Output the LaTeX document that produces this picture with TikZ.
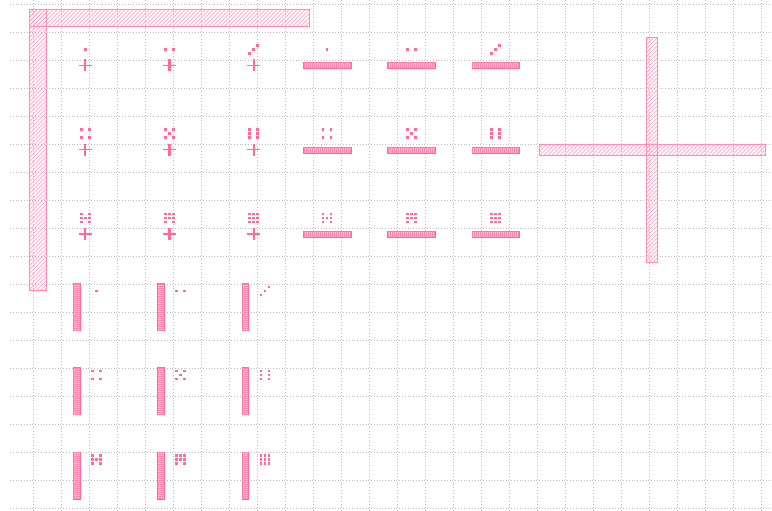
\documentclass[tikz,border=0pt]{standalone}

\definecolor{gridgray}{RGB}{190,190,190}
\definecolor{barline}{RGB}{255,140,180}
\definecolor{hatch}{RGB}{255,150,186}
\definecolor{glyph}{RGB}{255,105,155}
\definecolor{glyphfill}{RGB}{255,195,215}

% pips of a die: x, y, number
\newcommand{\pips}[3]{%
  \ifcase#3\or
    \def\piplist{0/0}\or
    \def\piplist{-1/0,1/0}\or
    \def\piplist{-1/1,0/0,1/-1}\or
    \def\piplist{-1/-1,1/-1,-1/1,1/1}\or
    \def\piplist{-1/-1,1/-1,0/0,-1/1,1/1}\or
    \def\piplist{-1/-1,-1/0,-1/1,1/-1,1/0,1/1}\or
    \def\piplist{-1/-1,-1/0,-1/1,0/0,1/-1,1/0,1/1}\or
    \def\piplist{-1/-1,0/-1,1/-1,-1/0,0/0,1/0,-1/1,1/1}\or
    \def\piplist{-1/-1,0/-1,1/-1,-1/0,0/0,1/0,-1/1,0/1,1/1}\fi
  \foreach \i/\j in \piplist {\fill[pip] (#1+4*\i-1.3,#2+4*\j-1.3) rectangle +(2.6,2.6);}}

% hatched bar: x0, y0, x1, y1
\newcommand{\hatchrect}[4]{%
  \begin{scope}
    \clip (#1,#2) rectangle (#3,#4);
    \pgfmathsetmacro\hh{#4-#2}
    \pgfmathsetmacro\sa{#1-\hh}
    \pgfmathsetmacro\sb{\sa+4}
    \foreach \s in {\sa,\sb,...,#3}
      \draw[hatchline] (\s,#4) -- ++(\hh,-\hh);
  \end{scope}
  \draw[barframe] (#1,#2) rectangle (#3,#4);}

\begin{document}
\begin{tikzpicture}[x=1pt, y=-1pt,
    gridline/.style={gridgray, line width=0.8pt, dotted},
    hatchline/.style={hatch, line width=0.6pt},
    barframe/.style={barline, line width=0.9pt},
    smallbar/.style={draw=glyph, line width=0.4pt, fill=glyphfill},
    stripe/.style={glyph!80, line width=0.5pt},
    crossbar/.style={fill=glyph},
    pip/.style={fill=glyph}]
  \useasboundingbox (0,0) rectangle (772,511);

  % grid
  \foreach \k in {0,...,18}
    \draw[gridline] (10,4.3+28*\k) -- (772,4.3+28*\k);
  \foreach \k in {0,...,26}
    \draw[gridline] (33.3+28*\k,0) -- (33.3+28*\k,511);

  % big bars
  \hatchrect{29.3}{9.5}{309}{26.5}
  \hatchrect{29.3}{9.5}{46.3}{290.3}
  \hatchrect{539}{144.3}{765.7}{155.3}
  \hatchrect{646}{37.3}{657.3}{262.3}

  % crosses, horizontal bars and dice
  \foreach \r in {0,1,2} {
    \foreach \c in {1,2,3} {
      \pgfmathtruncatemacro\n{3*\r+\c}
      \pgfmathsetmacro\cx{85.3+84.2*(\c-1)}
      \pgfmathsetmacro\bx{327+84.2*(\c-1)}
      \pgfmathsetmacro\cy{65.5+84.2*\r}
      \fill[crossbar] (\cx-6.3,\cy-0.7) rectangle (\cx+6.3,\cy+0.7);
      \fill[crossbar] (\cx-1.1,\cy-6) rectangle (\cx+1.1,\cy+6);
      \pips{\cx}{\cy-16}{\n}
      \draw[smallbar] (\bx-23.7,\cy-3) rectangle (\bx+23.7,\cy+3);
      \foreach \s in {1,3,...,47}
        \draw[stripe] (\bx-23.7+\s,\cy-3) -- ++(0,6);
      \pips{\bx}{\cy-16}{\n}
    }
  }

  % vertical bars and dice
  \foreach \r in {0,1,2} {
    \foreach \c in {1,2,3} {
      \pgfmathtruncatemacro\n{3*\r+\c}
      \pgfmathsetmacro\vx{76.7+84.2*(\c-1)}
      \pgfmathsetmacro\vy{306.8+84.2*\r}
      \draw[smallbar] (\vx-3.3,\vy-23.5) rectangle (\vx+3.3,\vy+23.5);
      \foreach \s in {1,3,...,47}
        \draw[stripe] (\vx-3.3,\vy-23.5+\s) -- ++(6.6,0);
      \pips{\vx+19.7}{\vy-16}{\n}
    }
  }
\end{tikzpicture}
\end{document}
